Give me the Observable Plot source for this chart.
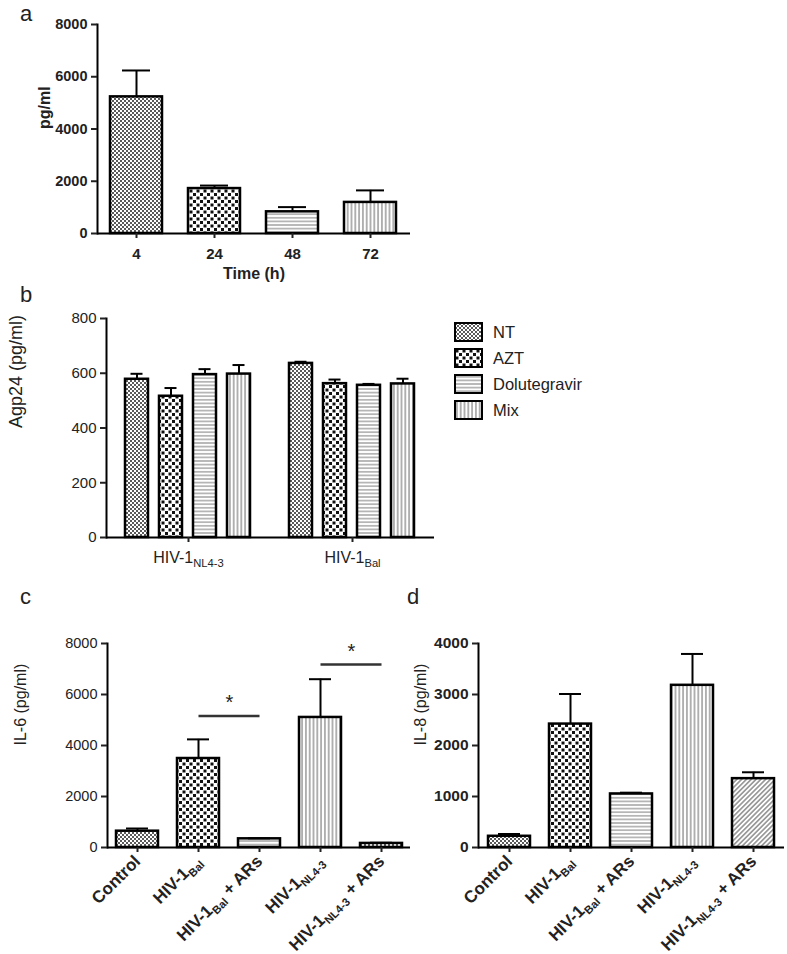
<!DOCTYPE html>
<html>
<head>
<meta charset="utf-8">
<script src="https://cdn.jsdelivr.net/npm/d3@7"></script>
<script src="https://cdn.jsdelivr.net/npm/@observablehq/plot@0.6"></script>
<style>
  body { margin: 0; background: #fff; }
  #fig { position: relative; width: 787px; height: 954px; overflow: hidden; background: #fff;
         font-family: "Liberation Sans", Arial, sans-serif; color: #222; }
  #fig > svg { position: absolute; }
</style>
</head>
<body>
<div id="fig"></div>
<script>
// ================= DATA =================
// Panel a: p24 over time
const timePoints = ["4", "24", "48", "72"];
const timeMeans  = [5230, 1720, 830, 1190];
const timeErrors = [1010, 115, 180, 460];

// Panel b: Agp24 by virus and treatment
const viruses    = ["HIV-1{NL4-3}", "HIV-1{Bal}"];
const treatments = ["NT", "AZT", "Dolutegravir", "Mix"];
const p24MeansNL43  = [578, 516, 595, 597];
const p24ErrorsNL43 = [20, 30, 20, 33];
const p24MeansBal   = [636, 562, 556, 561];
const p24ErrorsBal  = [6, 15, 5, 19];

// Panels c and d: cytokines
const conditions = ["Control", "HIV-1{Bal}", "HIV-1{Bal} + ARs", "HIV-1{NL4-3}", "HIV-1{NL4-3} + ARs"];
const il6Means  = [640, 3490, 340, 5100, 160];
const il6Errors = [105, 750, 20, 1500, 25];
const il8Means  = [220, 2420, 1050, 3180, 1350];
const il8Errors = [45, 590, 25, 615, 125];

// Panel c significance brackets
const sigFrom  = ["HIV-1{Bal}", "HIV-1{NL4-3}"];
const sigTo    = ["HIV-1{Bal} + ARs", "HIV-1{NL4-3} + ARs"];
const sigLevel = [5160, 7180];
const sigLabel = ["*", "*"];

// ================= STYLE =================
const FONT = '"Liberation Sans", Arial, sans-serif';
const fillA = {"4": "nt", "24": "azt", "48": "horiz", "72": "vert"};
const fillTreat = {NT: "nt", AZT: "azt", Dolutegravir: "horiz", Mix: "vert"};
const fillC = ["nt", "azt", "horiz", "vert", "nt"];
const fillD = ["nt", "azt", "horiz", "vert", "diag"];
const url = k => `url(#p-${k})`;

const fig = d3.select("#fig");

// ---- pattern definitions ----
const defs = fig.append("svg").attr("width", 0).attr("height", 0).append("defs");
function pattern(id, w, h, draw, transform) {
  const p = defs.append("pattern").attr("id", "p-" + id)
    .attr("patternUnits", "userSpaceOnUse").attr("width", w).attr("height", h);
  if (transform) p.attr("patternTransform", transform);
  p.append("rect").attr("width", w).attr("height", h).attr("fill", "#fff");
  draw(p);
}
pattern("nt", 4, 4, p => {
  p.append("rect").attr("x", 0).attr("y", 0).attr("width", 2).attr("height", 2).attr("fill", "#5a5a5a");
  p.append("rect").attr("x", 2).attr("y", 2).attr("width", 2).attr("height", 2).attr("fill", "#5a5a5a");
});
pattern("azt", 7, 7, p => {
  p.append("rect").attr("x", 0.5).attr("y", 0.5).attr("width", 3).attr("height", 3).attr("fill", "#111");
  p.append("rect").attr("x", 4).attr("y", 4).attr("width", 3).attr("height", 3).attr("fill", "#111");
});
pattern("horiz", 4, 3.6, p => {
  p.append("rect").attr("x", 0).attr("y", 1.3).attr("width", 4).attr("height", 1).attr("fill", "#7a7a7a");
});
pattern("vert", 3.8, 4, p => {
  p.append("rect").attr("x", 1.4).attr("y", 0).attr("width", 1).attr("height", 4).attr("fill", "#666");
});
pattern("diag", 3.4, 4, p => {
  p.append("rect").attr("x", 1.2).attr("y", 0).attr("width", 1).attr("height", 4).attr("fill", "#555");
}, "rotate(45)");

// ---- helper: subscripts written as {..} in labels ----
function subscriptify(svg) {
  const NS = "http://www.w3.org/2000/svg";
  svg.querySelectorAll("text").forEach(t => {
    const s = t.textContent;
    const m = s.match(/^(.*?)\{(.+?)\}(.*)$/);
    if (!m) return;
    const fs = parseFloat(getComputedStyle(t).fontSize) || 14;
    const shift = fs * 0.3;
    t.textContent = "";
    const a = document.createElementNS(NS, "tspan"); a.textContent = m[1];
    const b = document.createElementNS(NS, "tspan"); b.textContent = m[2];
    b.setAttribute("dy", shift); b.setAttribute("font-size", (fs * 0.8) + "px");
    t.append(a, b);
    if (m[3]) {
      const c = document.createElementNS(NS, "tspan"); c.textContent = m[3];
      c.setAttribute("dy", -shift);
      t.append(c);
    }
  });
}

function place(svg, left, top) {
  svg.style.position = "absolute";
  svg.style.left = left + "px";
  svg.style.top = top + "px";
  subscriptify(svg);
  fig.node().append(svg);
}

const baseStyle = {fontFamily: FONT, color: "#222", background: "transparent", overflow: "visible"};

function errorMarks(data, x, inset, extra = {}) {
  return [
    Plot.ruleX(data, {x, y1: "mean", y2: d => d.mean + d.err, stroke: "black", strokeWidth: 2, ...extra}),
    Plot.tickY(data, {x, y: d => d.mean + d.err, stroke: "black", strokeWidth: 2, insetLeft: inset, insetRight: inset, ...extra})
  ];
}

// ================= PANEL a =================
const dataA = timePoints.map((t, i) => ({t, mean: timeMeans[i], err: timeErrors[i], fill: url(fillA[t])}));
const plotA = Plot.plot({
  width: 420, height: 290, marginLeft: 97, marginRight: 10, marginTop: 24, marginBottom: 57,
  style: baseStyle,
  x: {domain: timePoints, paddingInner: 0.333, paddingOuter: 0.155, label: null},
  y: {domain: [0, 8000], label: null},
  color: {type: "identity"},
  marks: [
    Plot.barY(dataA, {x: "t", y: "mean", fill: "fill", stroke: "black", strokeWidth: 2.5}),
    ...errorMarks(dataA, "t", 12),
    Plot.ruleY([0], {stroke: "black", strokeWidth: 2}),
    Plot.frame({anchor: "left", stroke: "black", strokeWidth: 2}),
    Plot.axisY({ticks: [0, 2000, 4000, 6000, 8000], tickFormat: "d", tickSize: 6, tickPadding: 4,
                fontSize: 14.5, fontWeight: "bold", strokeWidth: 2, label: null}),
    Plot.axisX({tickSize: 5, tickPadding: 10, fontSize: 15, fontWeight: "bold", strokeWidth: 2, label: null}),
    Plot.text(["pg/ml"], {text: d => d, frameAnchor: "left", rotate: -90, dx: -53, fontSize: 16, fontWeight: "bold"}),
    Plot.text(["Time (h)"], {text: d => d, frameAnchor: "bottom", dy: 45, fontSize: 16, fontWeight: "bold"})
  ]
});
place(plotA, 0, 0);

// ================= PANEL b =================
const dataB = [];
viruses.forEach((v, vi) => treatments.forEach((t, ti) => dataB.push({
  virus: v, treatment: t,
  mean: vi === 0 ? p24MeansNL43[ti] : p24MeansBal[ti],
  err:  vi === 0 ? p24ErrorsNL43[ti] : p24ErrorsBal[ti],
  fill: url(fillTreat[t])
})));
const plotB = Plot.plot({
  width: 445, height: 290, marginLeft: 106, marginRight: 11, marginTop: 28, marginBottom: 43,
  style: baseStyle,
  fx: {domain: viruses, padding: 0, label: null},
  x: {domain: treatments, paddingInner: 0.314, paddingOuter: 0.5, axis: null},
  y: {domain: [0, 800], label: null},
  color: {type: "identity"},
  marks: [
    Plot.barY(dataB, {fx: "virus", x: "treatment", y: "mean", fill: "fill", stroke: "black", strokeWidth: 2.5}),
    ...errorMarks(dataB, "treatment", 5.5, {fx: "virus"}),
    Plot.ruleY([0], {stroke: "black", strokeWidth: 2}),
    Plot.frame({anchor: "left", facetAnchor: "left", stroke: "black", strokeWidth: 2}),
    Plot.axisY({ticks: [0, 200, 400, 600, 800], tickFormat: "d", tickSize: 6, tickPadding: 4,
                fontSize: 15, strokeWidth: 2, label: null}),
    Plot.axisFx({anchor: "bottom", tickSize: 5, tickPadding: 9, fontSize: 16, strokeWidth: 2, label: null}),
    Plot.text(["Agp24 (pg/ml)"], {text: d => d, frameAnchor: "left", facetAnchor: "left", rotate: -90, dx: -90, fontSize: 18})
  ]
});
place(plotB, 0, 290);

// legend for panel b
const legend = fig.append("svg").attr("width", 160).attr("height", 110)
  .style("left", "452px").style("top", "320px").style("position", "absolute");
treatments.forEach((t, i) => {
  const g = legend.append("g").attr("transform", `translate(3,${3 + i * 26})`);
  g.append("rect").attr("width", 27).attr("height", 18).attr("fill", url(fillTreat[t]))
    .attr("stroke", "black").attr("stroke-width", 2);
  g.append("text").attr("x", 38).attr("y", 9).attr("dy", "0.35em")
    .attr("font-family", FONT).attr("font-size", 16.5).attr("fill", "#222").text(t);
});

// ================= PANELS c & d =================
function cytokinePlot(means, errors, fills, label, yMax, yTicks, opts) {
  const data = conditions.map((c, i) => ({c, mean: means[i], err: errors[i], fill: url(fills[i])}));
  const marks = [
    Plot.barY(data, {x: "c", y: "mean", fill: "fill", stroke: "black", strokeWidth: 2.5}),
    ...errorMarks(data, "c", opts.inset),
    Plot.ruleY([0], {stroke: "black", strokeWidth: 2}),
    Plot.frame({anchor: "left", stroke: "black", strokeWidth: 2}),
    Plot.axisY({ticks: yTicks, tickFormat: "d", tickSize: 6, tickPadding: 4,
                fontSize: opts.yFont, fontWeight: opts.yWeight, strokeWidth: 2, label: null}),
    Plot.axisX({tickRotate: -45, tickSize: 5, tickPadding: 6, fontSize: 17, fontWeight: "bold", strokeWidth: 2, label: null}),
    Plot.text([label], {text: d => d, frameAnchor: "left", rotate: -90, dx: opts.labelDx, fontSize: 16})
  ];
  if (opts.sig) {
    const sig = sigFrom.map((f, i) => ({from: f, to: sigTo[i], y: sigLevel[i], label: sigLabel[i]}));
    marks.push(
      Plot.link(sig, {x1: "from", x2: "to", y1: "y", y2: "y", stroke: "#333", strokeWidth: 2.5}),
      Plot.text(sig, {x: "from", y: "y", text: "label", dx: 31, dy: -13, fontSize: 20, fill: "#222"})
    );
  }
  return Plot.plot({
    width: opts.width, height: 374, marginLeft: opts.ml, marginRight: opts.mr, marginTop: 63, marginBottom: 107,
    style: baseStyle,
    x: {domain: conditions, paddingInner: 0.314, paddingOuter: opts.po, label: null},
    y: {domain: [0, yMax], label: null},
    color: {type: "identity"},
    marks
  });
}

const plotC = cytokinePlot(il6Means, il6Errors, fillC, "IL-6 (pg/ml)", 8000, [0, 2000, 4000, 6000, 8000],
  {width: 415, ml: 107, mr: 5, po: 0.13, inset: 10, yFont: 14.5, yWeight: "normal", labelDx: -87, sig: true});
place(plotC, 0, 580);

const plotD = cytokinePlot(il8Means, il8Errors, fillD, "IL-8 (pg/ml)", 4000, [0, 1000, 2000, 3000, 4000],
  {width: 387, ml: 78, mr: 3, po: 0.147, inset: 10, yFont: 15.5, yWeight: "bold", labelDx: -58, sig: false});
place(plotD, 400, 580);

// ---- panel letters ----
const letters = fig.append("svg").attr("width", 787).attr("height", 954)
  .style("left", "0px").style("top", "0px").style("position", "absolute").style("pointer-events", "none");
[["a", 20, 21], ["b", 20, 302], ["c", 20, 604], ["d", 407, 604]].forEach(([t, x, y]) => {
  letters.append("text").attr("x", x).attr("y", y).attr("font-family", FONT)
    .attr("font-size", 22).attr("fill", "#222").text(t);
});
</script>
</body>
</html>
